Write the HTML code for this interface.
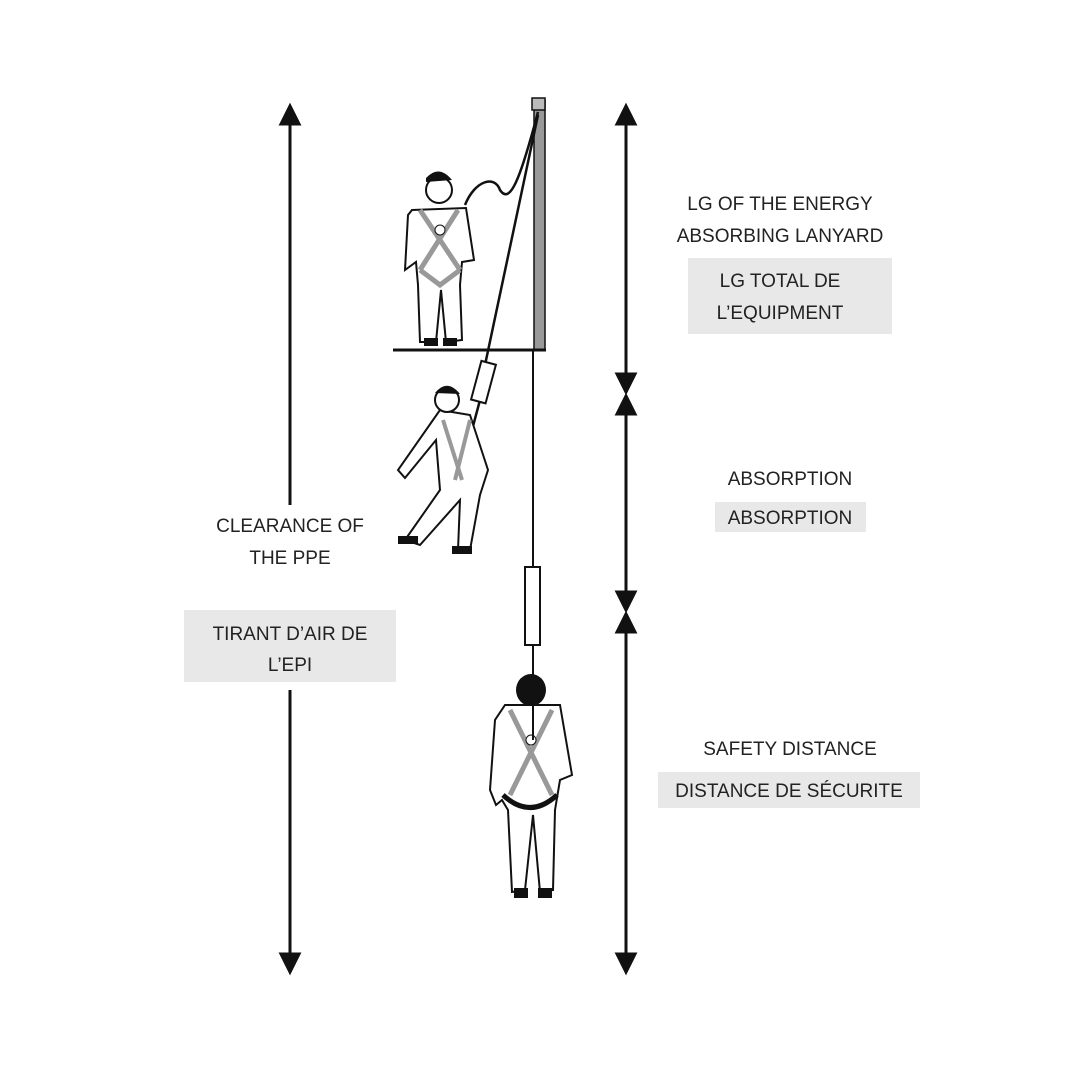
<!DOCTYPE html>
<html><head><meta charset="utf-8"><style>
html,body{margin:0;padding:0;background:#fff}
svg{display:block}
text{font-family:"Liberation Sans",sans-serif;font-size:19px;fill:#222;text-anchor:middle}
</style></head><body>
<svg width="1080" height="1080" viewBox="0 0 1080 1080" xmlns="http://www.w3.org/2000/svg">
<defs><marker id="a" viewBox="0 0 10 10" refX="5" refY="5" markerWidth="7" markerHeight="7" orient="auto-start-reverse"><path d="M0,0 L10,5 L0,10 z" fill="#111"/></marker></defs>
<g stroke="#111" stroke-width="3" fill="none">
<line x1="290" y1="505" x2="290" y2="112"/>
<path d="M281,124 L290,106 L299,124 z" fill="#111"/>
<line x1="290" y1="690" x2="290" y2="960"/>
<path d="M281,954 L290,972 L299,954 z" fill="#111"/>
<line x1="626" y1="112" x2="626" y2="388"/>
<path d="M617,124 L626,106 L635,124 z M617,374 L626,392 L635,374 z" fill="#111"/>
<line x1="626" y1="400" x2="626" y2="606"/>
<path d="M617,414 L626,396 L635,414 z M617,592 L626,610 L635,592 z" fill="#111"/>
<line x1="626" y1="620" x2="626" y2="960"/>
<path d="M617,632 L626,614 L635,632 z M617,954 L626,972 L635,954 z" fill="#111"/>
</g>
<!-- labels -->
<text x="290" y="532">CLEARANCE OF</text>
<text x="290" y="564">THE PPE</text>
<rect x="184" y="610" width="212" height="72" fill="#e8e8e8"/>
<text x="290" y="640">TIRANT D’AIR DE</text>
<text x="290" y="671">L’EPI</text>
<text x="780" y="210">LG OF THE ENERGY</text>
<text x="780" y="242">ABSORBING LANYARD</text>
<rect x="688" y="258" width="204" height="76" fill="#e8e8e8"/>
<text x="780" y="287">LG TOTAL DE</text>
<text x="780" y="319">L’EQUIPMENT</text>
<text x="790" y="485">ABSORPTION</text>
<rect x="715" y="502" width="151" height="30" fill="#e8e8e8"/>
<text x="790" y="524">ABSORPTION</text>
<text x="790" y="755">SAFETY DISTANCE</text>
<rect x="658" y="772" width="262" height="36" fill="#e8e8e8"/>
<text x="789" y="797">DISTANCE DE SÉCURITE</text>
<!-- pole & platform -->
<rect x="534" y="100" width="11" height="250" fill="#999" stroke="#111" stroke-width="1.5"/>
<rect x="532" y="98" width="13" height="12" fill="#bbb" stroke="#111" stroke-width="1.5"/>
<line x1="393" y1="350" x2="546" y2="350" stroke="#111" stroke-width="3"/>
<line x1="533" y1="350" x2="533" y2="700" stroke="#111" stroke-width="2"/>
<rect x="525" y="567" width="15" height="78" fill="#fff" stroke="#111" stroke-width="2"/>
<!-- lanyards -->
<path d="M538,115 L485,365 M480,400 L472,430" stroke="#111" stroke-width="2.5" fill="none"/>
<rect x="476" y="362" width="15" height="40" fill="#fff" stroke="#111" stroke-width="2" transform="rotate(15 483 382)"/>
<path d="M465,205 C475,180 495,175 500,190 C510,205 520,180 538,112" stroke="#111" stroke-width="2.5" fill="none"/>
<!-- figure 1 -->
<g stroke="#111" stroke-width="2" fill="#fff">
<path d="M412,210 L466,208 L474,260 L462,262 L460,285 L462,340 L446,342 L441,290 L436,342 L420,342 L418,285 L416,262 L405,270 L408,215 z"/>
<circle cx="439" cy="190" r="13"/>
</g>
<path d="M426,178 Q439,164 452,180 L426,182 z" fill="#111"/>
<rect x="424" y="338" width="14" height="8" fill="#111"/><rect x="443" y="338" width="14" height="8" fill="#111"/>
<path d="M420,210 L460,270 M458,210 L420,270 M420,270 L440,285 L460,270" stroke="#999" stroke-width="5" fill="none"/>
<circle cx="440" cy="230" r="5" fill="#fff" stroke="#111"/>
<!-- figure 2 -->
<g stroke="#111" stroke-width="2" fill="#fff">
<path d="M440,410 L470,415 L488,470 L480,495 L470,550 L458,550 L460,500 L420,545 L405,540 L440,490 L436,440 L405,478 L398,470 z"/>
<circle cx="447" cy="400" r="12"/>
</g>
<path d="M435,393 Q447,378 460,394 z" fill="#111"/>
<path d="M443,420 L462,480 M470,420 L455,480" stroke="#999" stroke-width="4" fill="none"/>
<rect x="398" y="536" width="20" height="8" fill="#111"/><rect x="452" y="546" width="20" height="8" fill="#111"/>
<!-- figure 3 -->
<g stroke="#111" stroke-width="2" fill="#fff">
<path d="M505,705 L560,705 L572,775 L560,780 L555,810 L553,890 L540,892 L533,815 L525,890 L512,892 L508,810 L502,800 L496,805 L490,790 L495,720 z"/>
</g>
<ellipse cx="531" cy="690" rx="15" ry="16" fill="#111"/>
<path d="M510,710 L552,795 M552,710 L510,795" stroke="#999" stroke-width="5" fill="none"/>
<path d="M503,795 Q530,820 557,795" stroke="#111" stroke-width="5" fill="none"/>
<circle cx="531" cy="740" r="5" fill="#fff" stroke="#111"/>
<line x1="533" y1="645" x2="533" y2="740" stroke="#111" stroke-width="2"/>
<rect x="514" y="888" width="14" height="10" fill="#111"/><rect x="538" y="888" width="14" height="10" fill="#111"/>
</svg>
</body></html>
